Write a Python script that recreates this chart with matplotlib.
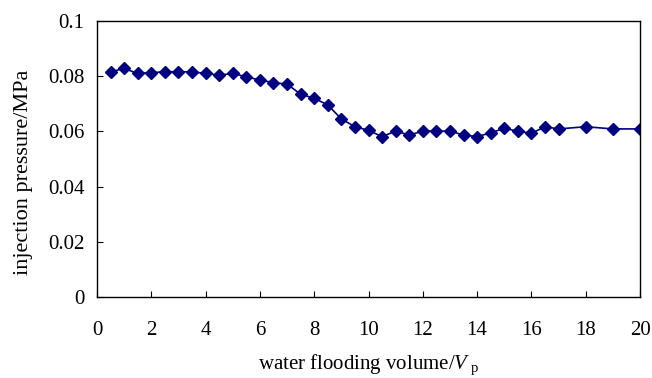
import matplotlib
matplotlib.use("Agg")
import matplotlib.pyplot as plt
import numpy as np

# water flooding volume (PV) and injection pressure (MPa)
volume = [0.5, 1, 1.5, 2, 2.5, 3, 3.5, 4, 4.5, 5, 5.5, 6, 6.5, 7, 7.5, 8, 8.5, 9,
          9.5, 10, 10.5, 11, 11.5, 12, 12.5, 13, 13.5, 14, 14.5, 15, 15.5, 16,
          16.5, 17, 18, 19, 20]
pressure = [0.0816, 0.0828, 0.0810, 0.0813, 0.0816, 0.0816, 0.0816, 0.0810, 0.0804,
            0.0810, 0.0798, 0.0786, 0.0777, 0.0771, 0.0735, 0.0720, 0.0696, 0.0645,
            0.0617, 0.0604, 0.0581, 0.0601, 0.0587, 0.0601, 0.0601, 0.0601, 0.0587,
            0.0581, 0.0595, 0.0611, 0.0601, 0.0593, 0.0617, 0.0609, 0.0617, 0.0609,
            0.0609]
xticks = np.arange(0, 21, 2)
yticks = [0, 0.02, 0.04, 0.06, 0.08, 0.1]
ytick_labels = ["0", "0.02", "0.04", "0.06", "0.08", "0.1"]

plt.rcParams["font.family"] = "Liberation Serif"
plt.rcParams["mathtext.fontset"] = "custom"
plt.rcParams["mathtext.rm"] = "Liberation Serif"
plt.rcParams["mathtext.it"] = "Liberation Serif:italic"

fig = plt.figure(figsize=(6.52, 3.78), dpi=100)
ax = fig.add_axes([0.1488, 0.2143, 0.8328, 0.7301])

ax.plot(volume, pressure, color="#000080", lw=1.2, marker="D", markersize=6.5,
        markerfacecolor="#000080", markeredgecolor="#000080")

ax.set_xlim(0, 20)
ax.set_ylim(0, 0.1)
ax.set_xticks(xticks)
ax.set_yticks(yticks)
ax.set_yticklabels(ytick_labels)
ax.tick_params(direction="in", length=4, width=0.8, labelsize=15)
ax.tick_params(axis="x", pad=17)
ax.tick_params(axis="y", pad=9)
for s in ax.spines.values():
    s.set_linewidth(1.0)

ax.set_xlabel(r"water flooding volume/$\mathit{V}_{\mathrm{\ p}}$", fontsize=15, labelpad=9)
ax.set_ylabel("injection pressure/MPa", fontsize=16)
ax.yaxis.set_label_coords(-0.118, 0.453)

fig.savefig("out.png", dpi=100)
